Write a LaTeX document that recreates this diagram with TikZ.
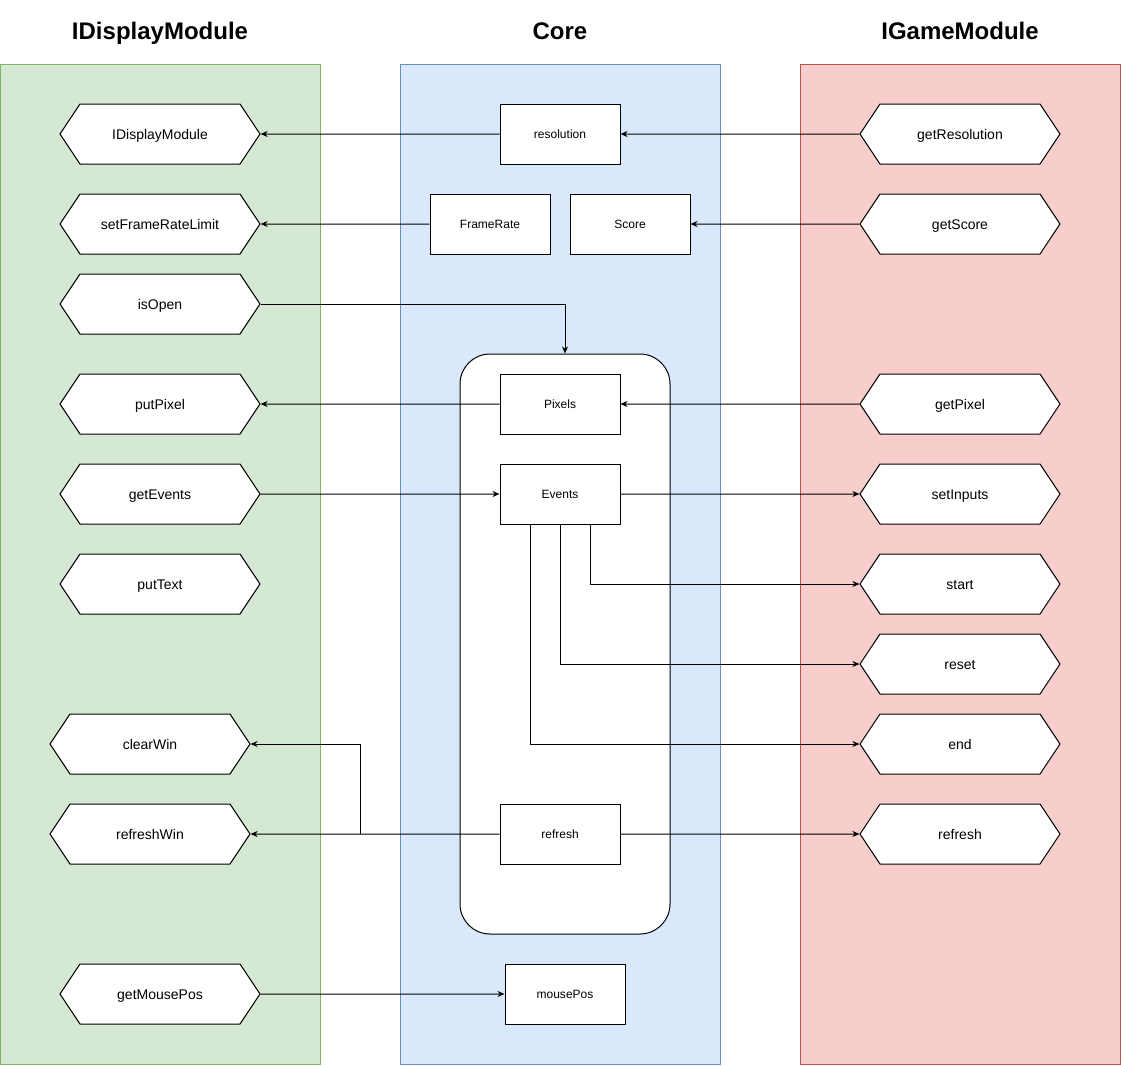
\documentclass[tikz,border=0pt]{standalone}
\usepackage{fontspec}
\setmainfont{Liberation Sans}
\usetikzlibrary{arrows.meta,shapes.symbols,positioning,calc}
\definecolor{dispfill}{HTML}{D5E8D4}
\definecolor{displine}{HTML}{82B366}
\definecolor{corefill}{HTML}{DAE8FC}
\definecolor{coreline}{HTML}{6C8EBF}
\definecolor{gamefill}{HTML}{F8CECC}
\definecolor{gameline}{HTML}{B85450}

\begin{document}
\begin{tikzpicture}[x=1pt,y=-1pt,
				font=\fontsize{14}{16}\selectfont,
				every node/.style={inner sep=0pt},
				panel/.style={minimum width=320pt, minimum height=1000pt, line width=0.8pt},
				hexa/.style={draw, fill=white, signal, signal to=west and east, signal pointer angle=112.62,
					minimum width=200pt, minimum height=60pt, text height=10pt, text depth=0pt, line width=1pt},
				box/.style={draw, fill=white, minimum width=120pt, minimum height=60pt,
					font=\fontsize{12}{14}\selectfont, line width=1pt},
				title/.style={font=\fontsize{24}{28}\selectfont\bfseries, text height=17pt, text depth=4pt},
				link/.style={-{Stealth[length=7pt,width=6pt]}, line width=1pt}]
			\useasboundingbox (0,0) rectangle (1121,1065);

			% columns
			\node[panel, fill=dispfill, draw=displine] (dispPanel) at (160,564) {};
			\node[panel, fill=corefill, draw=coreline] (corePanel) at (560,564) {};
			\node[panel, fill=gamefill, draw=gameline] (gamePanel) at (960,564) {};
			\node[title] (dispTitle) at (160,33) {IDisplayModule};
			\node[title] (coreTitle) at (560,33) {Core};
			\node[title] (gameTitle) at (960,33) {IGameModule};

			% IDisplayModule
			\node[hexa] (iDisplay) at (160,134) {IDisplayModule};
			\node[hexa] (setFrameRate) at (160,224) {setFrameRateLimit};
			\node[hexa] (isOpen) at (160,304) {isOpen};
			\node[hexa] (putPixel) at (160,404) {putPixel};
			\node[hexa] (getEvents) at (160,494) {getEvents};
			\node[hexa] (putText) at (160,584) {putText};
			\node[hexa] (clearWin) at (150,744) {clearWin};
			\node[hexa] (refreshWin) at (150,834) {refreshWin};
			\node[hexa] (getMousePos) at (160,994) {getMousePos};

			% Core
			\node[draw, fill=white, line width=1pt, rounded corners=30pt,
				minimum width=210pt, minimum height=580pt] (loop) at (565,644) {};
			\node[box] (resolution) at (560,134) {resolution};
			\node[box] (frameRate) at (490,224) {FrameRate};
			\node[box] (score) at (630,224) {Score};
			\node[box] (pixels) at (560,404) {Pixels};
			\node[box] (events) at (560,494) {Events};
			\node[box] (refresh) at (560,834) {refresh};
			\node[box] (mousePos) at (565,994) {mousePos};

			% IGameModule
			\node[hexa] (getResolution) at (960,134) {getResolution};
			\node[hexa] (getScore) at (960,224) {getScore};
			\node[hexa] (getPixel) at (960,404) {getPixel};
			\node[hexa] (setInputs) at (960,494) {setInputs};
			\node[hexa] (start) at (960,584) {start};
			\node[hexa] (reset) at (960,664) {reset};
			\node[hexa] (endGame) at (960,744) {end};
			\node[hexa] (refreshGame) at (960,834) {refresh};

			% links
			\draw[link] (resolution) -- (iDisplay);
			\draw[link] (getResolution) -- (resolution);
			\draw[link] (frameRate) -- (setFrameRate);
			\draw[link] (getScore) -- (score);
			\draw[link] (isOpen.east) -| (loop.north);
			\draw[link] (pixels) -- (putPixel);
			\draw[link] (getPixel) -- (pixels);
			\draw[link] (getEvents) -- (events);
			\draw[link] (events) -- (setInputs);
			\draw[link] ([xshift=30pt]events.south) |- (start.west);
			\draw[link] (events.south) |- (reset.west);
			\draw[link] ([xshift=-30pt]events.south) |- (endGame.west);
			\draw[link] (refresh) -- (refreshWin);
			\coordinate (split) at (360,834);
			\draw[link] (split) |- (clearWin.east);
			\draw[link] (refresh) -- (refreshGame);
			\draw[link] (getMousePos) -- (mousePos);
		\end{tikzpicture}
\end{document}
